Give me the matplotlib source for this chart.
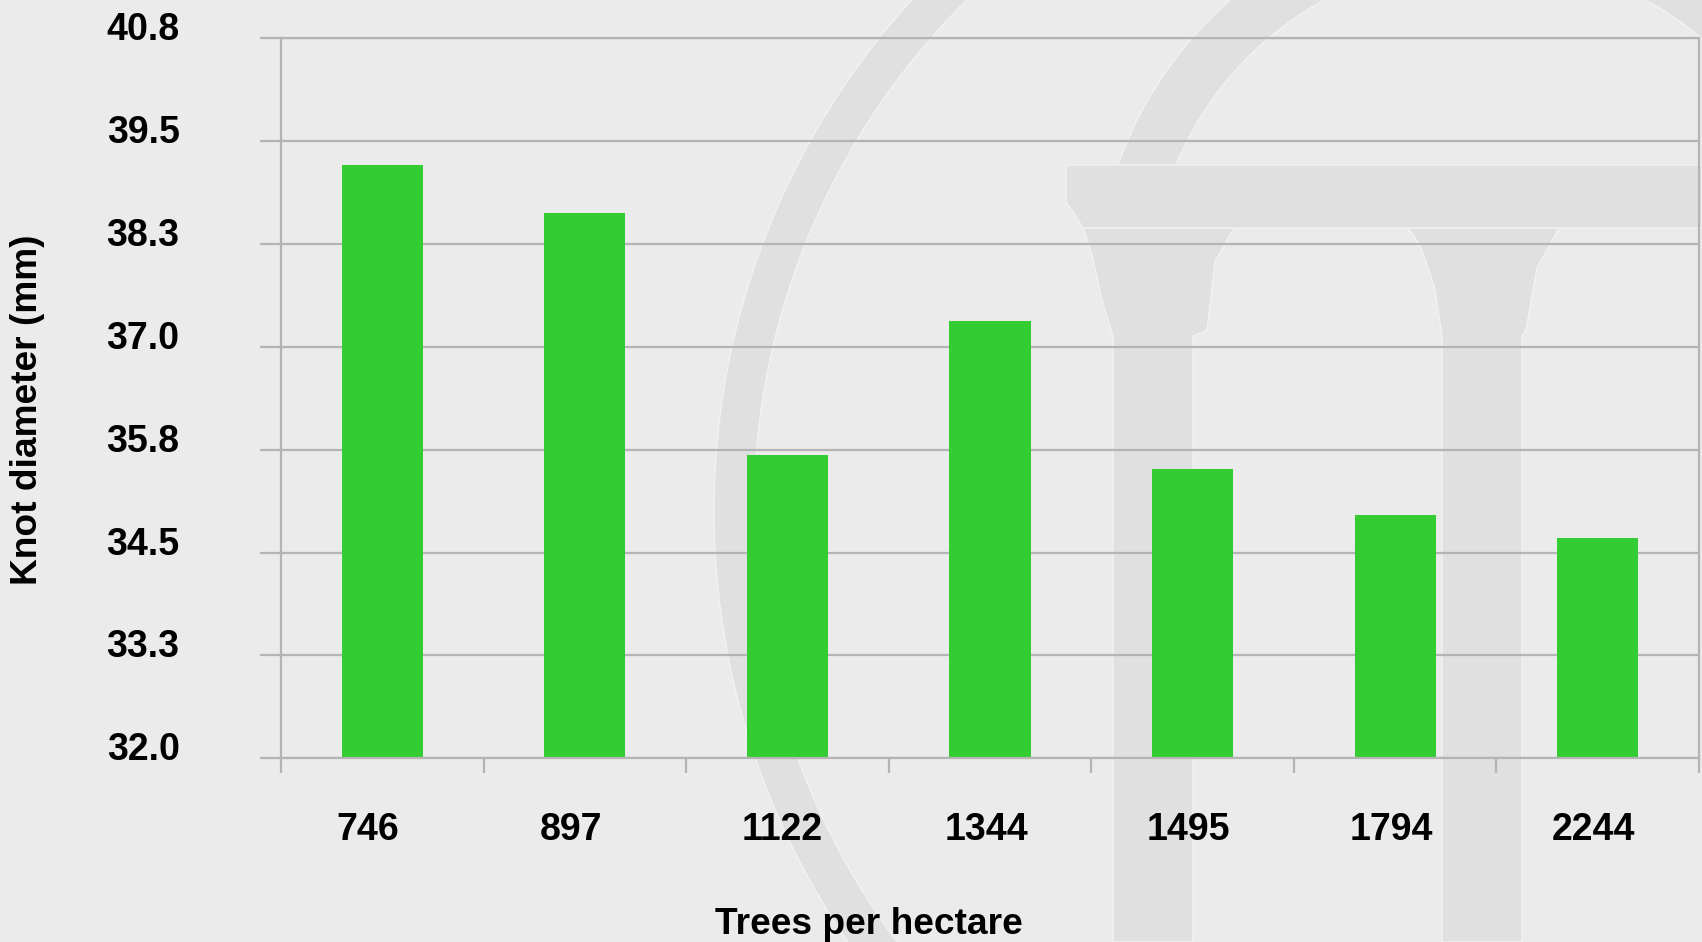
import matplotlib
matplotlib.use('Agg')
import matplotlib.pyplot as plt
import matplotlib.transforms as mtransforms
from matplotlib.patches import Wedge, Polygon
import numpy as np

densities = ['746', '897', '1122', '1344', '1495', '1794', '2244']
knot_diameter = [39.25, 38.67, 35.71, 37.35, 35.53, 34.97, 34.69]

y_min, y_max = 32.0, 40.8
y_ticks = np.linspace(y_min, y_max, 8)

BG = '#ebebeb'
MARK = '#e0e0e0'
EDGE = '#f2f2f2'
GRID = '#b4b4b4'
GREEN = '#33cc33'

plt.rcParams['font.family'] = ['Liberation Sans', 'DejaVu Sans']
plt.rcParams['font.weight'] = 'bold'


def draw_logo(fig):
    # faint logo behind the chart, drawn in pixel coordinates
    bg = fig.add_axes([0, 0, 1, 1], zorder=0)
    bg.set_xlim(0, 1702)
    bg.set_ylim(942, 0)
    bg.axis('off')
    style = dict(facecolor=MARK, edgecolor=EDGE, linewidth=1)
    bg.add_patch(Wedge((1474, 511), 760, 0, 360, width=40, **style))
    bg.add_patch(Wedge((1485, 294), 389, 190, 350, width=54, **style))
    bg.add_patch(Polygon([(1083, 228), (1234, 228), (1215, 262), (1207, 330),
                          (1193, 336), (1193, 942), (1113, 942), (1113, 336),
                          (1102, 300), (1092, 255)], closed=True, **style))
    bg.add_patch(Polygon([(1408, 228), (1559, 228), (1537, 268), (1526, 330),
                          (1522, 336), (1522, 942), (1442, 942), (1442, 336),
                          (1434, 285), (1420, 245)], closed=True, **style))
    bg.add_patch(Polygon([(1066, 165), (1702, 165), (1702, 228), (1083, 228),
                          (1072, 210), (1066, 203)], closed=True, **style))


def plot_knots():
    fig = plt.figure(figsize=(17.02, 9.42), dpi=100, facecolor=BG)
    draw_logo(fig)

    ax = fig.add_axes([281 / 1702, 1 - 758.3 / 942, 1418 / 1702, 720 / 942], zorder=1)
    ax.set_facecolor('none')

    x = np.arange(len(densities))
    ax.bar(x, [v - y_min for v in knot_diameter], bottom=y_min, width=0.4,
           color=GREEN, zorder=2)

    ax.set_xlim(-0.5, len(densities) - 0.5)
    ax.set_ylim(y_min, y_max)

    ax.set_yticks(y_ticks)
    ax.set_yticklabels([f'{t:.1f}' for t in y_ticks])
    ax.yaxis.grid(True, color=GRID, linewidth=1.6)
    ax.set_axisbelow(True)
    ax.tick_params(axis='y', direction='out', length=15, width=1.6, color=GRID,
                   pad=58, labelsize=27)

    ax.set_xticks(np.arange(len(densities) + 1) - 0.5)
    ax.set_xticklabels([])
    ax.set_xticks(x, minor=True)
    ax.set_xticklabels(densities, minor=True)
    ax.tick_params(axis='x', which='major', direction='out', length=11, width=1.6,
                   color=GRID)
    ax.tick_params(axis='x', which='minor', length=0, pad=39, labelsize=27)

    for side in ['left', 'right', 'top', 'bottom']:
        ax.spines[side].set_color(GRID)
        ax.spines[side].set_linewidth(1.6)

    shift_y = mtransforms.ScaledTranslation(0, 0.12, fig.dpi_scale_trans)
    for lbl in ax.get_yticklabels():
        lbl.set_transform(lbl.get_transform() + shift_y)
        lbl.set_fontweight('bold')
    # category labels start a fixed distance left of each bar centre
    shift_x = mtransforms.ScaledTranslation(-0.455, 0, fig.dpi_scale_trans)
    for lbl in ax.get_xticklabels(minor=True):
        lbl.set_transform(lbl.get_transform() + shift_x)
        lbl.set_horizontalalignment('left')
        lbl.set_fontweight('bold')

    fig.text(28 / 1702, 1 - 410 / 942, 'Knot diameter (mm)', rotation=90,
             ha='center', va='center', fontsize=26.7, fontweight='bold')
    fig.text(869 / 1702, 1 - 924 / 942, 'Trees per hectare',
             ha='center', va='center', fontsize=26.7, fontweight='bold')

    fig.savefig('out.png', dpi=100, facecolor=BG)


if __name__ == '__main__':
    plot_knots()
